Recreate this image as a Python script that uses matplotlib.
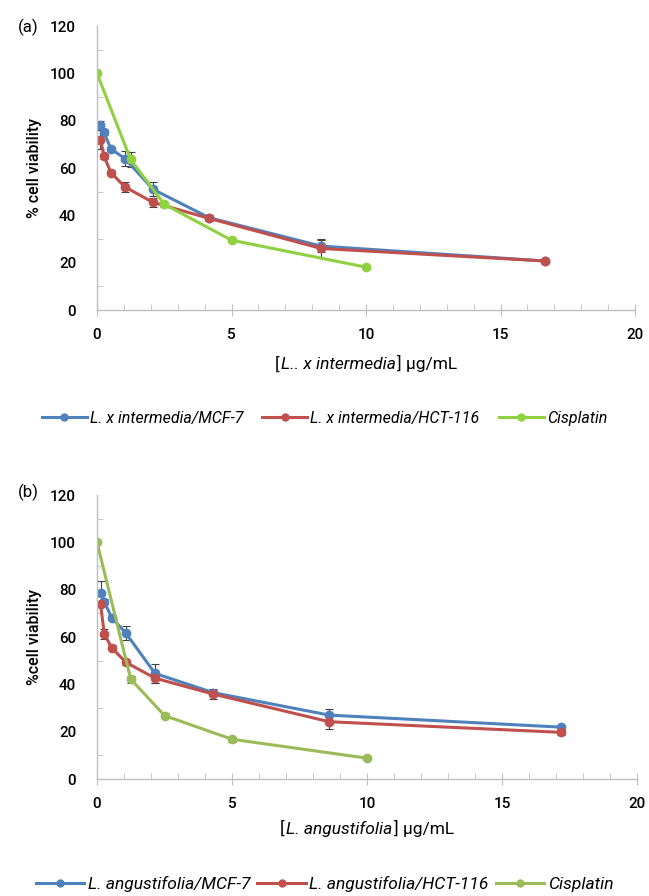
import numpy as np
import matplotlib.pyplot as plt
from matplotlib.ticker import MultipleLocator
from matplotlib.lines import Line2D
from matplotlib.offsetbox import TextArea, HPacker, AnchoredOffsetbox

plt.rcParams['font.family'] = ['Roboto', 'DejaVu Sans']

# panel (a) data
conc_a = [0.13, 0.26, 0.52, 1.04, 2.08, 4.17, 8.33, 16.67]
mcf7_a = [78, 75, 68, 64, 51, 39, 27, 20.7]
mcf7_a_err = [2, 1, 1, 3, 3, 1, 2.5, 1]
hct_a = [72, 65, 58, 52, 45.5, 38.7, 26, 20.7]
hct_a_err = [4, 1, 1, 2, 2, 1, 4, 1]
cis_a_x = [0, 1.25, 2.5, 5, 10]
cis_a = [100, 63.6, 44.7, 29.5, 18.1]
cis_a_err = [0, 3, 1, 0.5, 0.5]

# panel (b) data
conc_b = [0.13, 0.27, 0.54, 1.07, 2.15, 4.3, 8.6, 17.2]
mcf7_b = [78.8, 75, 68.2, 61.6, 44.6, 36.5, 27, 21.9]
mcf7_b_err = [5, 1, 1, 3, 4, 1, 2.5, 1]
hct_b = [74, 61.3, 55.5, 49.3, 42.6, 35.9, 24.2, 19.7]
hct_b_err = [1, 2, 1, 1, 2, 2, 3, 1]
cis_b_x = [0, 1.25, 2.5, 5, 10]
cis_b = [100, 42.2, 26.8, 16.8, 8.8]
cis_b_err = [0, 1.5, 1, 1, 0.5]

blue = '#4F81BD'
red = '#C0504D'
green_a = '#8FD140'
green_b = '#9BBB59'
ecol = '#404040'

fig = plt.figure(figsize=(6.49, 8.96), dpi=100)
ax1 = fig.add_axes([97/649, 1-310/896, 538/649, 284/896])
ax2 = fig.add_axes([97/649, 1-779/896, 540/649, 284/896])


def draw(ax, conc, mcf, mcf_err, hct, hct_err, cx, cis, cis_err, gcol):
    kw = dict(lw=2.2, marker='o', ms=6, elinewidth=0.8, ecolor=ecol,
              capsize=3, capthick=0.8)
    ax.errorbar(conc, mcf, yerr=mcf_err, color=blue, **kw)
    ax.errorbar(conc, hct, yerr=hct_err, color=red, **kw)
    ax.errorbar(cx, cis, yerr=cis_err, color=gcol, **kw)
    ax.set_xlim(0, 20)
    ax.set_ylim(0, 120)
    ax.xaxis.set_major_locator(MultipleLocator(5))
    ax.xaxis.set_minor_locator(MultipleLocator(1))
    ax.yaxis.set_major_locator(MultipleLocator(20))
    ax.yaxis.set_minor_locator(MultipleLocator(10))
    for s in ['top', 'right']:
        ax.spines[s].set_visible(False)
    for s in ['left', 'bottom']:
        ax.spines[s].set_color('#BFBFBF')
        ax.spines[s].set_linewidth(1)
    ax.tick_params(axis='x', which='major', direction='inout', length=8,
                   color='#BFBFBF', labelsize=11, pad=9)
    ax.tick_params(axis='x', which='minor', direction='in', length=4,
                   color='#BFBFBF')
    ax.tick_params(axis='y', which='major', length=0, labelsize=11, pad=15)
    ax.tick_params(axis='y', which='minor', direction='in', length=4,
                   color='#BFBFBF')
    for lab in ax.get_xticklabels() + ax.get_yticklabels():
        lab.set_fontweight('medium')
    handles = [Line2D([], [], color=c, lw=2.2, marker='o', ms=5)
               for c in (blue, red, gcol)]
    return handles


def xlabel(ax, italic, y):
    parts = [TextArea('[', textprops=dict(size=12.5)),
             TextArea(italic, textprops=dict(size=12.5, style='italic')),
             TextArea('] μg/mL', textprops=dict(size=12.5))]
    box = HPacker(children=parts, pad=0, sep=1)
    ab = AnchoredOffsetbox(loc='center', child=box, frameon=False,
                           bbox_to_anchor=(0.5, y), bbox_transform=ax.transAxes,
                           borderpad=0, pad=0)
    ax.add_artist(ab)


hs_a = draw(ax1, conc_a, mcf7_a, mcf7_a_err, hct_a, hct_a_err,
            cis_a_x, cis_a, cis_a_err, green_a)
ax1.set_ylabel('% cell viability', fontsize=11.5, fontweight='medium', labelpad=6)
xlabel(ax1, 'L.. x intermedia', -0.19)
fig.legend(hs_a, ['L. x intermedia/MCF-7', 'L. x intermedia/HCT-116', 'Cisplatin'],
           loc='center', bbox_to_anchor=(0.5, 1-418/896), ncol=3, frameon=False,
           prop={'style': 'italic', 'size': 11.5}, handlelength=2.8,
           columnspacing=1.2, handletextpad=0.2)
fig.text(18/649, 1-27/896, '(a)', fontsize=12, va='center')

hs_b = draw(ax2, conc_b, mcf7_b, mcf7_b_err, hct_b, hct_b_err,
            cis_b_x, cis_b, cis_b_err, green_b)
ax2.set_ylabel('%cell viability', fontsize=11.5, fontweight='medium', labelpad=6)
xlabel(ax2, 'L. angustifolia', -0.175)
fig.legend(hs_b, ['L. angustifolia/MCF-7', 'L. angustifolia/HCT-116', 'Cisplatin'],
           loc='center', bbox_to_anchor=(0.5, 1-884/896), ncol=3, frameon=False,
           prop={'style': 'italic', 'size': 12.5}, handlelength=2.8,
           columnspacing=0.4, handletextpad=0.2)
fig.text(18/649, 1-492/896, '(b)', fontsize=12, va='center')

fig.savefig('out.png', dpi=100)
